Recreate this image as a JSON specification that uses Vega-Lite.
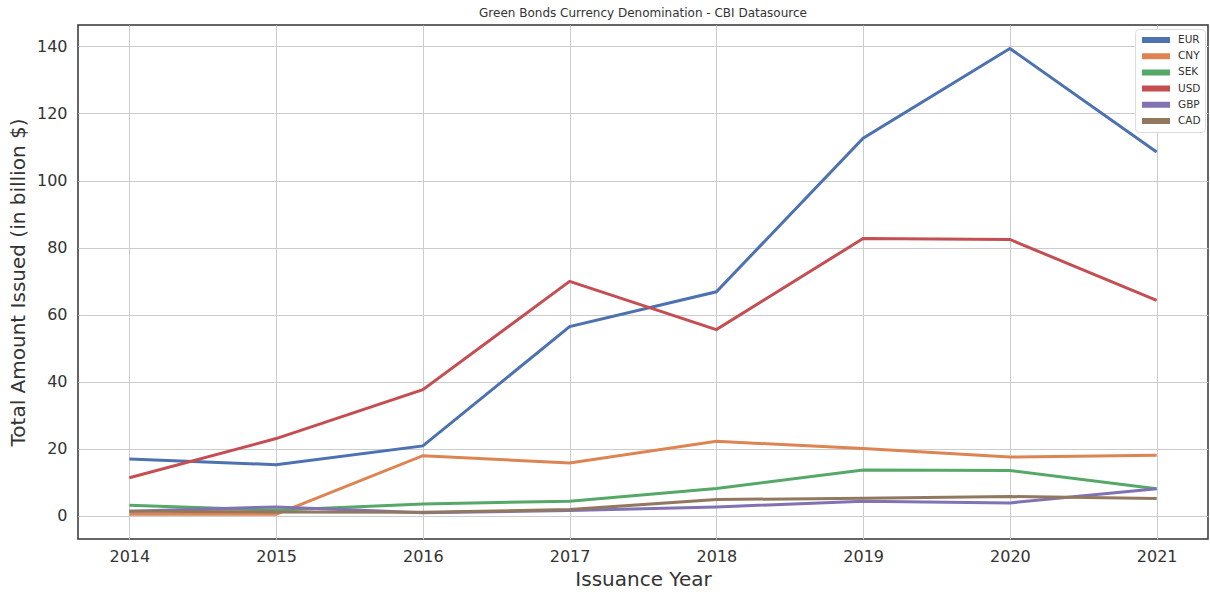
{
  "$schema": "https://vega.github.io/schema/vega-lite/v6.json",
  "autosize": "none",
  "width": 1130,
  "height": 514,
  "padding": {"left": 78, "top": 25, "right": 2, "bottom": 53},
  "background": "white",
  "config": {
    "font": "DejaVu Sans",
    "view": {"stroke": "#333333", "strokeWidth": 1.5},
    "axis": {"domain": false, "ticks": false, "gridColor": "#cccccc", "gridWidth": 1, "labelColor": "#333333", "titleColor": "#333333", "labelFontSize": 16, "titleFontSize": 20, "titleFontWeight": "normal", "labelFont": "DejaVu Sans", "titleFont": "DejaVu Sans"}
  },
  "title": {"text": "Green Bonds Currency Denomination - CBI Datasource", "fontSize": 12, "fontWeight": "normal", "color": "#333333", "offset": 5, "font": "DejaVu Sans"},
  "data": {"values": [
    {"year": 2014, "currency": "EUR", "amount": 16.9},
    {"year": 2015, "currency": "EUR", "amount": 15.2},
    {"year": 2016, "currency": "EUR", "amount": 20.8},
    {"year": 2017, "currency": "EUR", "amount": 56.4},
    {"year": 2018, "currency": "EUR", "amount": 66.8},
    {"year": 2019, "currency": "EUR", "amount": 112.6},
    {"year": 2020, "currency": "EUR", "amount": 139.4},
    {"year": 2021, "currency": "EUR", "amount": 108.5},
    {"year": 2014, "currency": "CNY", "amount": 0.4},
    {"year": 2015, "currency": "CNY", "amount": 0.4},
    {"year": 2016, "currency": "CNY", "amount": 17.9},
    {"year": 2017, "currency": "CNY", "amount": 15.7},
    {"year": 2018, "currency": "CNY", "amount": 22.2},
    {"year": 2019, "currency": "CNY", "amount": 20.0},
    {"year": 2020, "currency": "CNY", "amount": 17.5},
    {"year": 2021, "currency": "CNY", "amount": 18.0},
    {"year": 2014, "currency": "SEK", "amount": 3.1},
    {"year": 2015, "currency": "SEK", "amount": 1.6},
    {"year": 2016, "currency": "SEK", "amount": 3.5},
    {"year": 2017, "currency": "SEK", "amount": 4.3},
    {"year": 2018, "currency": "SEK", "amount": 8.1},
    {"year": 2019, "currency": "SEK", "amount": 13.6},
    {"year": 2020, "currency": "SEK", "amount": 13.5},
    {"year": 2021, "currency": "SEK", "amount": 8.0},
    {"year": 2014, "currency": "USD", "amount": 11.3},
    {"year": 2015, "currency": "USD", "amount": 23.0},
    {"year": 2016, "currency": "USD", "amount": 37.6},
    {"year": 2017, "currency": "USD", "amount": 69.9},
    {"year": 2018, "currency": "USD", "amount": 55.5},
    {"year": 2019, "currency": "USD", "amount": 82.7},
    {"year": 2020, "currency": "USD", "amount": 82.4},
    {"year": 2021, "currency": "USD", "amount": 64.2},
    {"year": 2014, "currency": "GBP", "amount": 1.3},
    {"year": 2015, "currency": "GBP", "amount": 2.6},
    {"year": 2016, "currency": "GBP", "amount": 0.9},
    {"year": 2017, "currency": "GBP", "amount": 1.5},
    {"year": 2018, "currency": "GBP", "amount": 2.6},
    {"year": 2019, "currency": "GBP", "amount": 4.3},
    {"year": 2020, "currency": "GBP", "amount": 3.8},
    {"year": 2021, "currency": "GBP", "amount": 8.0},
    {"year": 2014, "currency": "CAD", "amount": 1.3},
    {"year": 2015, "currency": "CAD", "amount": 1.1},
    {"year": 2016, "currency": "CAD", "amount": 1.0},
    {"year": 2017, "currency": "CAD", "amount": 1.8},
    {"year": 2018, "currency": "CAD", "amount": 4.8},
    {"year": 2019, "currency": "CAD", "amount": 5.2},
    {"year": 2020, "currency": "CAD", "amount": 5.7},
    {"year": 2021, "currency": "CAD", "amount": 5.1}
  ]},
  "mark": {"type": "line", "strokeWidth": 3, "clip": true},
  "encoding": {
    "x": {"field": "year", "type": "quantitative", "title": "Issuance Year",
      "scale": {"domain": [2013.65, 2021.35], "nice": false, "zero": false},
      "axis": {"values": [2014, 2015, 2016, 2017, 2018, 2019, 2020, 2021], "format": "d", "labelPadding": 9, "titlePadding": 5}},
    "y": {"field": "amount", "type": "quantitative", "title": "Total Amount Issued (in billion $)",
      "scale": {"domain": [-6.97, 146.4], "nice": false, "zero": false},
      "axis": {"values": [0, 20, 40, 60, 80, 100, 120, 140], "labelPadding": 11, "titlePadding": 8}},
    "color": {"field": "currency", "type": "nominal", "title": null,
      "sort": ["EUR", "CNY", "SEK", "USD", "GBP", "CAD"],
      "scale": {"domain": ["EUR", "CNY", "SEK", "USD", "GBP", "CAD"], "range": ["#4C72B0", "#DD8452", "#55A868", "#C44E52", "#8172B3", "#937860"]},
      "legend": {"orient": "none", "legendX": 1057, "legendY": 4, "symbolType": "stroke", "symbolSize": 784, "symbolStrokeWidth": 6, "clipHeight": 14, "labelFontSize": 10.5, "labelColor": "#333333", "labelFont": "DejaVu Sans", "rowPadding": 2.2, "padding": 4, "strokeColor": "#dddddd", "fillColor": "white", "cornerRadius": 4, "labelOffset": 5}}
  }
}
